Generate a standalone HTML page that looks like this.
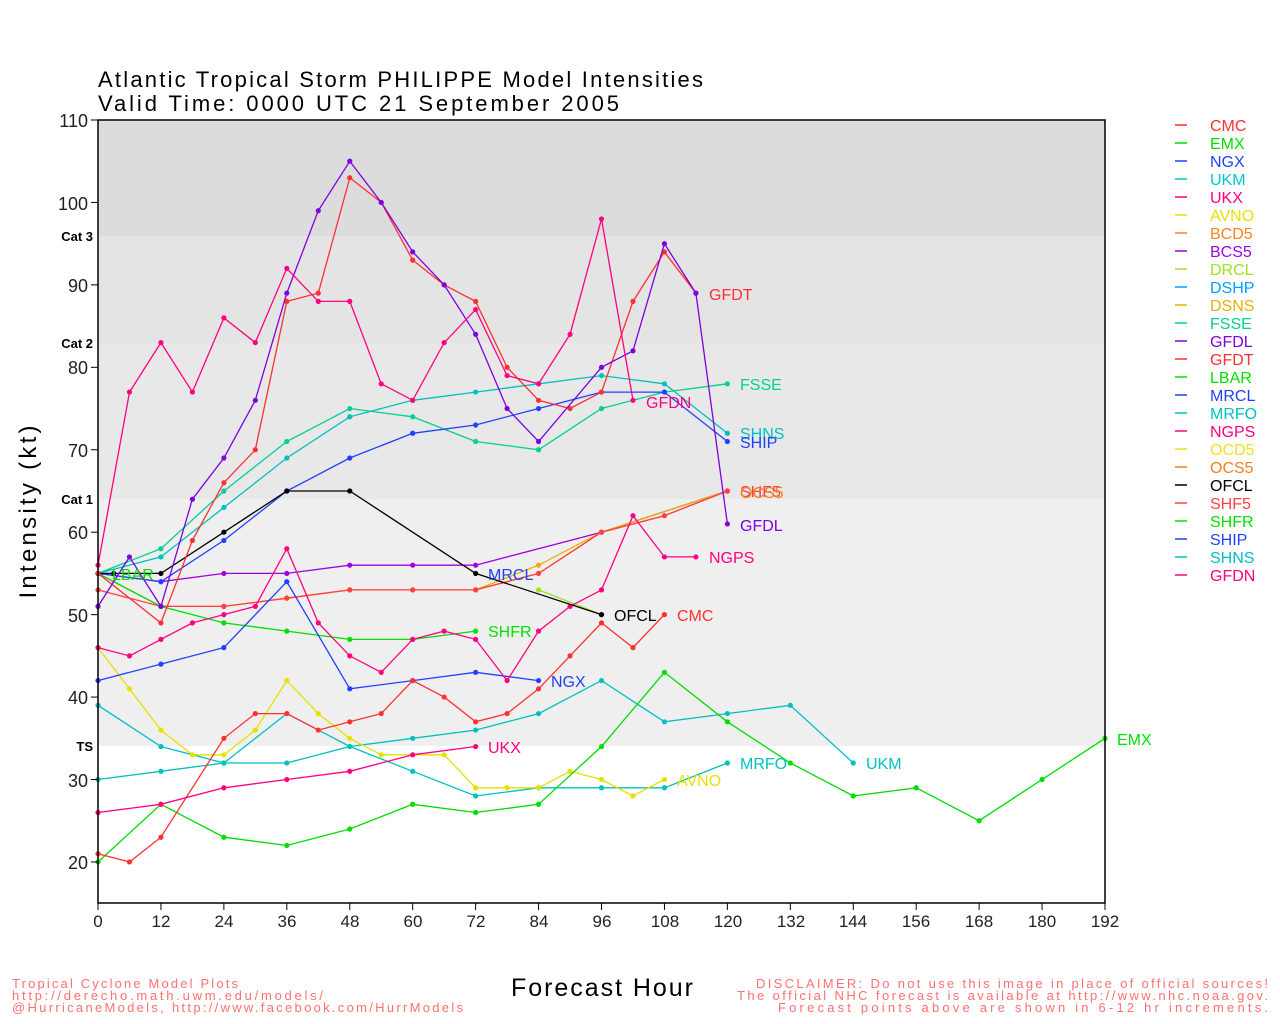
<!DOCTYPE html>
<html><head><meta charset="utf-8"><style>
html,body{margin:0;padding:0;background:#fff;}
svg{display:block;font-family:"Liberation Sans",sans-serif;}
</style></head><body>
<svg id="s" width="1280" height="1024" xmlns="http://www.w3.org/2000/svg">
<rect width="1280" height="1024" fill="#fff"/>
<rect x="98" y="120" width="1007" height="116" fill="#dcdcdc"/>
<rect x="98" y="236" width="1007" height="107" fill="#e4e4e4"/>
<rect x="98" y="343" width="1007" height="156" fill="#e8e8e8"/>
<rect x="98" y="499" width="1007" height="247" fill="#efefef"/>
<g id="series"></g>
<rect x="98" y="120" width="1007" height="783" fill="none" stroke="#000" stroke-width="1.5"/>
<g id="ticks"></g>
<g font-size="18" fill="#222" text-anchor="end">
<text x="88" y="127">110</text><text x="88" y="210">100</text><text x="88" y="292">90</text><text x="88" y="374">80</text><text x="88" y="457">70</text><text x="88" y="539">60</text><text x="88" y="622">50</text><text x="88" y="704">40</text><text x="88" y="787">30</text><text x="88" y="869">20</text>
</g>
<g font-size="13" font-weight="bold" fill="#000" text-anchor="end">
<text x="93" y="241">Cat 3</text><text x="93" y="348">Cat 2</text><text x="93" y="504">Cat 1</text><text x="93" y="751">TS</text>
</g>
<g font-size="17" fill="#222" text-anchor="middle">
<text x="98" y="927">0</text><text x="161" y="927">12</text><text x="224" y="927">24</text><text x="287" y="927">36</text><text x="350" y="927">48</text><text x="413" y="927">60</text><text x="476" y="927">72</text><text x="539" y="927">84</text><text x="602" y="927">96</text><text x="665" y="927">108</text><text x="728" y="927">120</text><text x="791" y="927">132</text><text x="853" y="927">144</text><text x="916" y="927">156</text><text x="979" y="927">168</text><text x="1042" y="927">180</text><text x="1105" y="927">192</text>
</g>
<text x="98" y="87" font-size="22" fill="#000" textLength="605" lengthAdjust="spacing">Atlantic Tropical Storm PHILIPPE Model Intensities</text>
<text x="98" y="111" font-size="22" fill="#000" textLength="521" lengthAdjust="spacing">Valid Time: 0000 UTC 21 September 2005</text>
<text transform="translate(36,512) rotate(-90)" font-size="24" fill="#000" text-anchor="middle" textLength="173" lengthAdjust="spacing">Intensity (kt)</text>
<text x="511" y="996" font-size="25" fill="#000" textLength="182" lengthAdjust="spacing">Forecast Hour</text>
<g font-size="13" fill="#ff7070">
<text x="12" y="988" textLength="226" lengthAdjust="spacing">Tropical Cyclone Model Plots</text>
<text x="12" y="1000" textLength="311" lengthAdjust="spacing">http://derecho.math.uwm.edu/models/</text>
<text x="12" y="1012" textLength="451" lengthAdjust="spacing">@HurricaneModels, http://www.facebook.com/HurrModels</text>
<text x="756" y="988" textLength="512" lengthAdjust="spacing">DISCLAIMER: Do not use this image in place of official sources!</text>
<text x="737" y="1000" textLength="531" lengthAdjust="spacing">The official NHC forecast is available at http://www.nhc.noaa.gov.</text>
<text x="778" y="1012" textLength="490" lengthAdjust="spacing">Forecast points above are shown in 6-12 hr increments.</text>
</g>
<g font-size="16">
<text x="709" y="300" fill="#ff3030">GFDT</text>
<text x="740" y="390" fill="#00d090">FSSE</text>
<text x="646" y="408" fill="#ff0080">GFDN</text>
<text x="740" y="439" fill="#00c0c0">SHNS</text>
<text x="740" y="448" fill="#2040ff">SHIP</text>
<text x="740" y="497" fill="#ff4040">SHF5</text>
<text x="740" y="498" fill="#f08020">OCS5</text>
<text x="740" y="531" fill="#8000e0">GFDL</text>
<text x="709" y="563" fill="#ff0080">NGPS</text>
<text x="488" y="580" fill="#2040ff">MRCL</text>
<text x="112" y="580" fill="#00e000">LBAR</text>
<text x="614" y="621" fill="#000">OFCL</text>
<text x="677" y="621" fill="#ff3030">CMC</text>
<text x="488" y="637" fill="#00e000">SHFR</text>
<text x="551" y="687" fill="#2040ff">NGX</text>
<text x="1117" y="745" fill="#00e000">EMX</text>
<text x="488" y="753" fill="#ff0080">UKX</text>
<text x="866" y="769" fill="#00c0c0">UKM</text>
<text x="740" y="769" fill="#00c0c0">MRFO</text>
<text x="677" y="786" fill="#e8e000">AVNO</text>
</g>
<g id="leg" font-size="16">
<text x="1210" y="131" fill="#ff3030">CMC</text>
<text x="1210" y="149" fill="#00dd00">EMX</text>
<text x="1210" y="167" fill="#2040ff">NGX</text>
<text x="1210" y="185" fill="#00c8c8">UKM</text>
<text x="1210" y="203" fill="#ff0080">UKX</text>
<text x="1210" y="221" fill="#e8e000">AVNO</text>
<text x="1210" y="239" fill="#ff8020">BCD5</text>
<text x="1210" y="257" fill="#a000e0">BCS5</text>
<text x="1210" y="275" fill="#a0e020">DRCL</text>
<text x="1210" y="293" fill="#00a0ff">DSHP</text>
<text x="1210" y="311" fill="#e8b000">DSNS</text>
<text x="1210" y="329" fill="#00d090">FSSE</text>
<text x="1210" y="347" fill="#8000e0">GFDL</text>
<text x="1210" y="365" fill="#ff3030">GFDT</text>
<text x="1210" y="383" fill="#00e000">LBAR</text>
<text x="1210" y="401" fill="#2040ff">MRCL</text>
<text x="1210" y="419" fill="#00c0c0">MRFO</text>
<text x="1210" y="437" fill="#ff0080">NGPS</text>
<text x="1210" y="455" fill="#f0e020">OCD5</text>
<text x="1210" y="473" fill="#f08020">OCS5</text>
<text x="1210" y="491" fill="#000">OFCL</text>
<text x="1210" y="509" fill="#ff4040">SHF5</text>
<text x="1210" y="527" fill="#00e000">SHFR</text>
<text x="1210" y="545" fill="#2040ff">SHIP</text>
<text x="1210" y="563" fill="#00c0c0">SHNS</text>
<text x="1210" y="581" fill="#ff0080">GFDN</text>
</g>
</svg>
<script>
var NS="http://www.w3.org/2000/svg";
function X(h){return 98+h*1007/192;}
function Y(v){return 120+(110-v)*8.244;}
function el(p,t,a){var e=document.createElementNS(NS,t);for(var k in a)e.setAttribute(k,a[k]);p.appendChild(e);return e;}
var g=document.getElementById("series"),tk=document.getElementById("ticks");
for(var h=0;h<=192;h+=12)el(tk,"line",{x1:X(h),x2:X(h),y1:903,y2:910,stroke:"#000"});
for(var v=20;v<=110;v+=10)el(tk,"line",{x1:91,x2:98,y1:Y(v),y2:Y(v),stroke:"#000"});
var leg=document.getElementById("leg").children;
for(var i=0;i<leg.length;i++){var y=+leg[i].getAttribute("y")-6;el(tk,"line",{x1:1175,x2:1187,y1:y,y2:y,stroke:leg[i].getAttribute("fill"),"stroke-width":1.5});}
var S=[
["#ff8020",[[0,55],[12,51],[24,51],[36,52],[48,53],[60,53],[72,53],[84,55],[96,60],[108,62],[120,65]]],
["#a000e0",[[0,55],[12,54],[24,55],[36,55],[48,56],[60,56],[72,56],[96,60],[120,65]]],
["#e8b000",[[72,53],[84,56],[96,60],[120,65]]],
["#ff4040",[[0,53],[12,51],[24,51],[36,52],[48,53],[60,53],[72,53],[84,55],[96,60],[108,62],[120,65]]],
["#00c0c0",[[0,30],[12,31],[24,32],[36,32],[48,34],[60,35],[72,36],[84,38],[96,42],[108,37],[120,38],[132,39],[144,32]]],
["#00c0c0",[[0,39],[12,34],[24,32],[36,38],[48,34],[60,31],[72,28],[84,29],[96,29],[108,29],[120,32]]],
["#e8e000",[[0,46],[6,41],[12,36],[18,33],[24,33],[30,36],[36,42],[42,38],[48,35],[54,33],[60,33],[66,33],[72,29],[78,29],[84,29],[90,31],[96,30],[102,28],[108,30]]],
["#a0e020",[[84,53],[96,50]]],
["#00dd00",[[0,20],[12,27],[24,23],[36,22],[48,24],[60,27],[72,26],[84,27],[96,34],[108,43],[120,37],[132,32],[144,28],[156,29],[168,25],[180,30],[192,35]]],
["#00e000",[[0,55],[12,51],[24,49],[36,48],[48,47],[60,47],[72,48]]],
["#2040ff",[[0,42],[12,44],[24,46],[36,54],[48,41],[60,42],[72,43],[84,42]]],
["#ff3030",[[0,21],[6,20],[12,23],[24,35],[30,38],[36,38],[42,36],[48,37],[54,38],[60,42],[66,40],[72,37],[78,38],[84,41],[90,45],[96,49],[102,46],[108,50]]],
["#ff0080",[[0,26],[12,27],[24,29],[36,30],[48,31],[60,33],[72,34]]],
["#ff0080",[[0,46],[6,45],[12,47],[18,49],[24,50],[30,51],[36,58],[42,49],[48,45],[54,43],[60,47],[66,48],[72,47],[78,42],[84,48],[90,51],[96,53],[102,62],[108,57],[114,57]]],
["#00d090",[[0,55],[12,58],[24,65],[36,71],[48,75],[60,74],[72,71],[84,70],[96,75],[108,77],[120,78]]],
["#00c0c0",[[0,55],[12,57],[24,63],[36,69],[48,74],[60,76],[72,77],[84,78],[96,79],[108,78],[120,72]]],
["#2040ff",[[0,55],[12,54],[24,59],[36,65],[48,69],[60,72],[72,73],[84,75],[96,77],[108,77],[120,71]]],
["#000000",[[0,55],[3,55],[12,55],[24,60],[36,65],[48,65],[72,55],[96,50]]],
["#ff3030",[[0,55],[12,49],[18,59],[24,66],[30,70],[36,88],[42,89],[48,103],[54,100],[60,93],[66,90],[72,88],[78,80],[84,76],[90,75],[96,77],[102,88],[108,94],[114,89]]],
["#8000e0",[[0,51],[6,57],[12,51],[18,64],[24,69],[30,76],[36,89],[42,99],[48,105],[54,100],[60,94],[66,90],[72,84],[78,75],[84,71],[96,80],[102,82],[108,95],[114,89],[120,61]]],
["#ff0080",[[0,56],[6,77],[12,83],[18,77],[24,86],[30,83],[36,92],[42,88],[48,88],[54,78],[60,76],[66,83],[72,87],[78,79],[84,78],[90,84],[96,98],[102,76]]]
];
S.forEach(function(s){
 var pts=s[1].map(function(p){return X(p[0]).toFixed(1)+","+Y(p[1]).toFixed(1);}).join(" ");
 el(g,"polyline",{points:pts,fill:"none",stroke:s[0],"stroke-width":1.3});
 s[1].forEach(function(p){el(g,"circle",{cx:X(p[0]),cy:Y(p[1]),r:2.6,fill:s[0]});});
});
</script>
</body></html>
